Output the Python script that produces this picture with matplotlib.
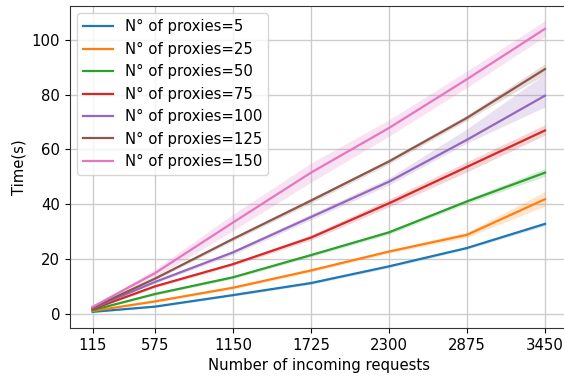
import matplotlib
matplotlib.use("Agg")
import matplotlib.pyplot as plt

# number of incoming requests (x axis)
requests = [115, 575, 1150, 1725, 2300, 2875, 3450]

proxies = [5, 25, 50, 75, 100, 125, 150]

# mean time(s) per proxy count
mean_5 = [0.7, 2.6, 6.8, 11.2, 17.3, 24.0, 32.8]
mean_25 = [1.0, 4.5, 9.5, 15.8, 22.7, 28.8, 41.8]
mean_50 = [1.3, 7.2, 13.3, 21.4, 29.7, 41.0, 51.5]
mean_75 = [1.7, 10.0, 18.1, 27.8, 40.3, 53.6, 66.9]
mean_100 = [2.0, 11.6, 22.4, 35.3, 48.2, 63.5, 79.6]
mean_125 = [2.2, 12.8, 27.3, 41.3, 55.6, 71.5, 89.3]
mean_150 = [2.5, 14.8, 33.3, 51.5, 67.8, 85.6, 104.0]

# confidence band bounds
lo_5 = [0.5, 2.3, 6.4, 10.7, 16.8, 23.5, 32.2]
hi_5 = [0.9, 2.9, 7.2, 11.7, 17.8, 24.5, 33.4]
lo_25 = [0.8, 4.1, 9.0, 15.2, 22.1, 27.9, 39.3]
hi_25 = [1.2, 4.9, 10.0, 16.4, 23.3, 29.8, 44.6]
lo_50 = [1.1, 6.8, 12.8, 20.8, 29.0, 40.2, 50.2]
hi_50 = [1.5, 7.6, 13.8, 22.0, 30.4, 41.8, 53.0]
lo_75 = [1.5, 9.5, 17.5, 26.9, 39.0, 51.8, 65.2]
hi_75 = [1.9, 10.5, 18.7, 28.8, 41.8, 55.5, 69.0]
lo_100 = [1.8, 11.1, 21.6, 34.3, 47.0, 62.3, 75.5]
hi_100 = [2.2, 12.1, 23.2, 36.4, 49.6, 67.5, 87.5]
lo_125 = [2.0, 12.3, 26.6, 40.4, 54.7, 70.6, 87.4]
hi_125 = [2.4, 13.3, 28.0, 42.2, 56.5, 72.5, 91.2]
lo_150 = [2.2, 13.3, 30.3, 48.0, 64.8, 82.6, 101.2]
hi_150 = [2.8, 16.3, 36.3, 55.0, 70.8, 88.6, 107.0]

means = [mean_5, mean_25, mean_50, mean_75, mean_100, mean_125, mean_150]
lows = [lo_5, lo_25, lo_50, lo_75, lo_100, lo_125, lo_150]
highs = [hi_5, hi_25, hi_50, hi_75, hi_100, hi_125, hi_150]

colors = ['#1f77b4', '#ff7f0e', '#2ca02c', '#d62728', '#9467bd', '#8c564b', '#e377c2']

plt.rcParams['font.size'] = 10.7

fig = plt.figure(figsize=(5.64, 3.79), dpi=100)
ax = fig.add_axes([0.124, 0.1346, 0.8824, 0.8494])

for n, m, lo, hi, c in zip(proxies, means, lows, highs, colors):
    ax.plot(requests, m, color=c, linewidth=1.6, label=f'N° of proxies={n}')
    ax.fill_between(requests, lo, hi, color=c, alpha=0.2, linewidth=0)

ax.set_xticks(requests)
ax.set_xlim(-51.75, 3616.75)
ax.set_ylim(-5.2, 112.3)
ax.set_yticks([0, 20, 40, 60, 80, 100])
ax.grid(True, color='#cccccc', linewidth=1)
ax.set_axisbelow(True)
for s in ax.spines.values():
    s.set_color('#333333')

ax.set_xlabel('Number of incoming requests')
ax.set_ylabel('Time(s)')
ax.legend(loc='upper left')

fig.savefig('out.png', dpi=100)
